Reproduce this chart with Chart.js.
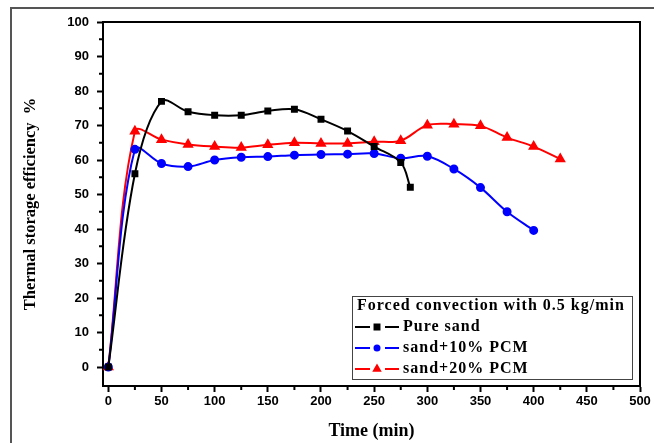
<!DOCTYPE html>
<html>
<head>
<meta charset="utf-8">
<script src="https://cdn.jsdelivr.net/npm/chart.js@4.4.1/dist/chart.umd.min.js"></script>
<style>
  html, body { margin: 0; padding: 0; background: #fff; }
  #wrap { position: relative; width: 654px; height: 443px; }
</style>
</head>
<body>
<div id="wrap"><canvas id="chart" width="654" height="443"></canvas></div>
<script>
// data
const timePure = [0, 25, 50, 75, 100, 125, 150, 175, 200, 225, 250, 275, 284];
const pureSand = [0, 56, 77, 74, 73, 73, 74.2, 74.7, 71.8, 68.4, 63.9, 59.3, 52.1];

const time10 = [0, 25, 50, 75, 100, 125, 150, 175, 200, 225, 250, 275, 300, 325, 350, 375, 400];
const sand10 = [0, 63.1, 59, 58.1, 60, 60.8, 61, 61.4, 61.6, 61.7, 61.9, 60.5, 61.1, 57.4, 52, 45, 39.6];

const time20 = [0, 25, 50, 75, 100, 125, 150, 175, 200, 225, 250, 275, 300, 325, 350, 375, 400, 425];
const sand20 = [0, 68.3, 65.9, 64.5, 63.9, 63.6, 64.4, 65, 64.8, 64.8, 65.3, 65.6, 70.1, 70.4, 69.9, 66.5, 63.9, 60.3];

const xTicks = [0, 50, 100, 150, 200, 250, 300, 350, 400, 450, 500];
const yTicks = [0, 10, 20, 30, 40, 50, 60, 70, 80, 90, 100];

const legendTitle = "Forced convection with 0.5 kg/min";

function pts(xs, ys) {
  return xs.map((x, i) => ({ x: x, y: ys[i] }));
}

// frame, minor ticks, legend box and outer border
const framePlugin = {
  id: 'frame',
  afterDraw(chart) {
    const ctx = chart.ctx;
    const a = chart.chartArea;
    const sx = chart.scales.x, sy = chart.scales.y;
    ctx.save();
    ctx.strokeStyle = '#000';
    ctx.lineWidth = 2;
    ctx.beginPath();
    ctx.moveTo(a.left, a.top);
    ctx.lineTo(a.right, a.top);
    ctx.lineTo(a.right, a.bottom);
    ctx.stroke();

    // minor ticks
    ctx.lineWidth = 2;
    ctx.beginPath();
    for (let v = 25; v < 500; v += 50) {
      const px = sx.getPixelForValue(v);
      ctx.moveTo(px, a.bottom);
      ctx.lineTo(px, a.bottom + 4);
    }
    for (let v = 5; v < 100; v += 10) {
      const py = sy.getPixelForValue(v);
      ctx.moveTo(a.left, py);
      ctx.lineTo(a.left - 4, py);
    }
    ctx.stroke();

    // picture border
    ctx.strokeStyle = '#555';
    ctx.lineWidth = 2;
    ctx.beginPath();
    ctx.moveTo(11, 443);
    ctx.lineTo(11, 8);
    ctx.lineTo(654, 8);
    ctx.stroke();

    // legend
    const bx = 352.5, by = 296.5, bw = 280, bh = 83;
    ctx.fillStyle = '#fff';
    ctx.fillRect(bx, by, bw, bh);
    ctx.strokeStyle = '#444';
    ctx.lineWidth = 1;
    ctx.strokeRect(bx, by, bw, bh);

    ctx.fillStyle = '#000';
    ctx.textBaseline = 'middle';
    ctx.textAlign = 'left';
    ctx.letterSpacing = '1px';
    ctx.font = 'bold 16px "Liberation Serif"';
    ctx.fillText(legendTitle, 357, 306);

    const rows = [327, 348, 369];
    chart.data.datasets.forEach((ds, i) => {
      const y = rows[i];
      ctx.strokeStyle = ds.borderColor;
      ctx.lineWidth = 2;
      ctx.beginPath();
      ctx.moveTo(355, y);
      ctx.lineTo(370, y);
      ctx.moveTo(385, y);
      ctx.lineTo(399, y);
      ctx.stroke();
      Chart.helpers.drawPoint(ctx, {
        pointStyle: ds.pointStyle,
        radius: ds.pointStyle === 'circle' ? 2.5 : 3.5,
        rotation: 0,
        borderWidth: 1
      }, 377, y);
      ctx.fillStyle = ds.borderColor;
      ctx.fill();
      ctx.fillStyle = '#000';
      ctx.font = 'bold 16px "Liberation Serif"';
      ctx.fillText(ds.label, 403, y);
    });
    ctx.letterSpacing = '0px';
    ctx.restore();
  }
};

new Chart(document.getElementById('chart'), {
  type: 'scatter',
  data: {
    datasets: [{
      label: 'Pure sand',
      data: pts(timePure, pureSand),
      borderColor: '#000000',
      backgroundColor: '#000000',
      pointStyle: 'rect',
      pointRadius: 3.5,
      showLine: true,
      borderWidth: 2,
      tension: 0.35
    }, {
      label: 'sand+10% PCM',
      data: pts(time10, sand10),
      borderColor: '#0000ff',
      backgroundColor: '#0000ff',
      pointStyle: 'circle',
      pointRadius: 3.5,
      showLine: true,
      borderWidth: 2,
      tension: 0.35
    }, {
      label: 'sand+20% PCM',
      data: pts(time20, sand20),
      borderColor: '#ff0000',
      backgroundColor: '#ff0000',
      pointStyle: 'triangle',
      pointRadius: 4.5,
      showLine: true,
      borderWidth: 2,
      tension: 0.35
    }]
  },
  options: {
    responsive: false,
    animation: false,
    layout: { padding: { top: 22, right: 14, left: 0, bottom: 0 } },
    plugins: {
      legend: { display: false },
      tooltip: { enabled: false }
    },
    scales: {
      x: {
        type: 'linear',
        min: -5,
        max: 500,
        afterFit: (s) => { s.height = 57; },
        afterBuildTicks: (s) => { s.ticks = xTicks.map(v => ({ value: v })); },
        border: { display: true, color: '#000', width: 2 },
        grid: { drawOnChartArea: false, drawTicks: true, tickLength: 6, tickWidth: 2, tickColor: '#000' },
        ticks: { color: '#000', padding: 2, maxRotation: 0, font: { family: '"Liberation Sans"', size: 13, weight: 'bold' } },
        title: { display: true, text: 'Time (min)', color: '#000', padding: { top: 0, bottom: 1 }, font: { family: '"Liberation Serif"', size: 18, weight: 'bold' } }
      },
      y: {
        type: 'linear',
        min: -5.5,
        max: 100,
        afterFit: (s) => { s.width = 103; },
        afterBuildTicks: (s) => { s.ticks = yTicks.map(v => ({ value: v })); },
        border: { display: true, color: '#000', width: 2 },
        grid: { drawOnChartArea: false, drawTicks: true, tickLength: 6, tickWidth: 2, tickColor: '#000' },
        ticks: { color: '#000', padding: 8, font: { family: '"Liberation Sans"', size: 13, weight: 'bold' } },
        title: { display: true, text: 'Thermal storage efficiency  %', color: '#000', padding: { top: 21, bottom: 0 }, font: { family: '"Liberation Serif"', size: 16.5, weight: 'bold' } }
      }
    }
  },
  plugins: [framePlugin]
});
</script>
</body>
</html>
